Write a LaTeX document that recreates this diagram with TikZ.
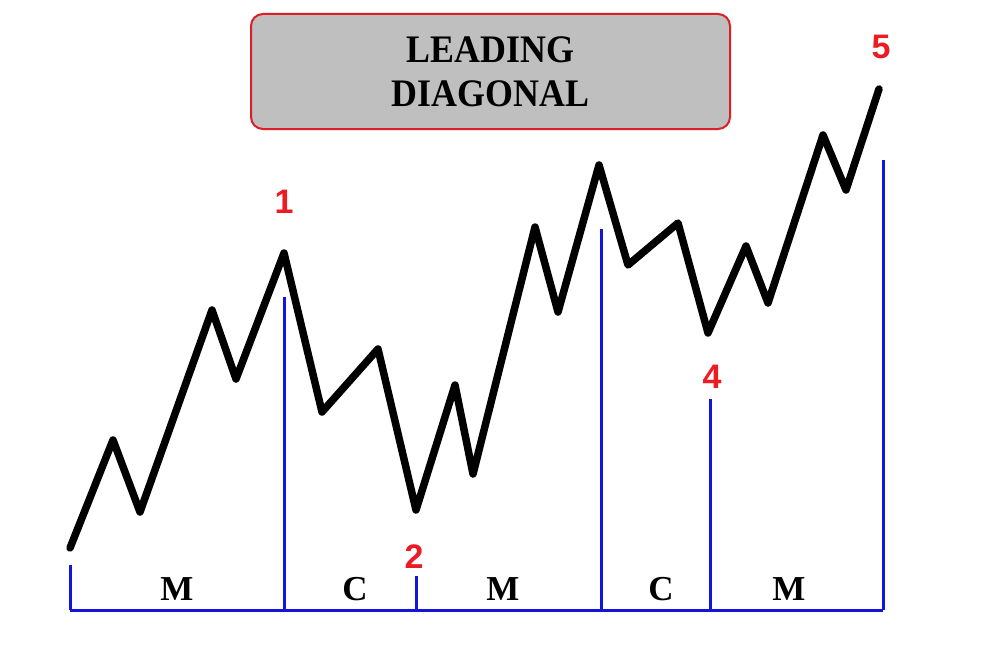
\documentclass[tikz,border=0pt]{standalone}
\usepackage{fontspec}
\setmainfont{Liberation Serif}
\newfontfamily\numfont{Liberation Sans}
\definecolor{wavered}{RGB}{235,28,36}
\definecolor{boxred}{RGB}{220,30,40}
\definecolor{boxgray}{RGB}{191,191,191}
\definecolor{axisblue}{RGB}{20,20,225}
\begin{document}
\begin{tikzpicture}[x=1pt,y=-1pt,
  wave/.style={line width=7.5pt,line join=round,line cap=round,black},
  axis/.style={line width=3pt,axisblue},
  numlabel/.style={text=wavered,font=\numfont\bfseries\fontsize{34}{36}\selectfont,inner sep=0pt},
  seglabel/.style={font=\bfseries\fontsize{35}{38}\selectfont,inner sep=0pt},
  titlebox/.style={draw=boxred,line width=2pt,fill=boxgray,rounded corners=12pt,
    minimum width=479pt,minimum height=115pt,align=center,
    font=\bfseries\fontsize{39}{44}\selectfont,inner sep=0pt}]
\useasboundingbox (0,0) rectangle (1000,658);
\fill[white] (0,0) rectangle (1000,658);
% title
\node[titlebox] (title) at (490.5,71.5) {\scalebox{0.92}[1]{LEADING}\\\scalebox{0.92}[1]{DIAGONAL}};
% wave coordinates
\coordinate (w1) at (70,548);
\coordinate (w2) at (113,440);
\coordinate (w3) at (140,512);
\coordinate (w4) at (212,310);
\coordinate (w5) at (236,379);
\coordinate (w6) at (284,253);
\coordinate (w7) at (322,412);
\coordinate (w8) at (378,349);
\coordinate (w9) at (416,510);
\coordinate (w10) at (455,385);
\coordinate (w11) at (473,474);
\coordinate (w12) at (535,227);
\coordinate (w13) at (558,312);
\coordinate (w14) at (599,165);
\coordinate (w15) at (628,265);
\coordinate (w16) at (678,223);
\coordinate (w17) at (708,333);
\coordinate (w18) at (746,246);
\coordinate (w19) at (768,303);
\coordinate (w20) at (823,135);
\coordinate (w21) at (846,190);
\coordinate (w22) at (879,89);
\draw[wave] (w1)--(w2)--(w3)--(w4)--(w5)--(w6)--(w7)--(w8)--(w9)--(w10)--(w11)
  --(w12)--(w13)--(w14)--(w15)--(w16)--(w17)--(w18)--(w19)--(w20)--(w21)--(w22);
% axis
\coordinate (a0) at (70,610);
\coordinate (a1) at (284,610);
\coordinate (a2) at (416,610);
\coordinate (a3) at (601,610);
\coordinate (a4) at (710,610);
\coordinate (a5) at (883,610);
\coordinate (t0) at (70,565);
\coordinate (t1) at (284,297);
\coordinate (t2) at (416,576);
\coordinate (t3) at (601,229);
\coordinate (t4) at (710,399);
\coordinate (t5) at (883,160);
\draw[axis] (a0)--(a5);
\foreach \i in {0,...,5} {\draw[axis] (a\i)--(t\i);}
% labels
\node[numlabel] (n1) at (284,202) {1};
\node[numlabel] (n2) at (414,557) {2};
\node[numlabel] (n4) at (712,377) {4};
\node[numlabel] (n5) at (881,47) {5};
\node[seglabel] (s1) at (177,589) {M};
\node[seglabel] (s2) at (355,589) {C};
\node[seglabel] (s3) at (503,589) {M};
\node[seglabel] (s4) at (661,589) {C};
\node[seglabel] (s5) at (789,589) {M};
\end{tikzpicture}
\end{document}
